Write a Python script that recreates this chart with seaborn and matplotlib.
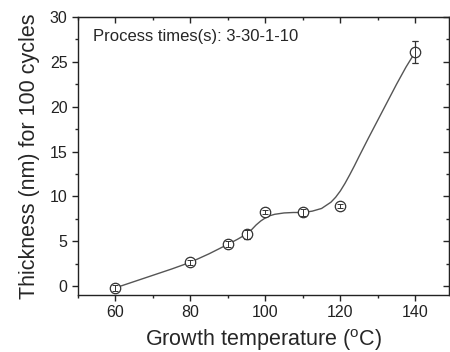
import matplotlib
matplotlib.use("Agg")
import matplotlib.pyplot as plt
import seaborn as sns
from matplotlib.ticker import MultipleLocator

# measured points
temp = [60, 80, 90, 95, 100, 110, 120, 140]
thickness = [-0.2, 2.65, 4.65, 5.75, 8.25, 8.2, 8.95, 26.1]
err = [0.3, 0.3, 0.35, 0.5, 0.25, 0.35, 0.25, 1.2]

# smooth guide curve
curve_x = [60, 65, 70, 75, 80, 85, 90, 92.5, 95, 96.25, 97.5, 98.75, 100, 101.25,
           102.5, 105, 107.5, 110, 112.5, 115, 117.5, 118.75, 120, 121.25, 122.5,
           123.75, 125, 127.5, 130, 132.5, 135, 137.5, 140]
curve_y = [-0.2, 0.5, 1.2, 1.9, 2.65, 3.6, 4.65, 5.2, 5.8, 6.25, 6.8, 7.25, 7.6, 7.85,
           8.0, 8.15, 8.2, 8.2, 8.35, 8.65, 9.35, 9.9, 10.6, 11.45, 12.4,
           13.4, 14.45, 16.5, 18.5, 20.5, 22.5, 24.4, 26.1]

sns.set_style("ticks")
plt.rcParams["font.family"] = ["Liberation Sans", "DejaVu Sans"]
plt.rcParams["mathtext.fontset"] = "custom"
plt.rcParams["mathtext.rm"] = "Liberation Sans"

fig = plt.figure(figsize=(4.5, 3.52), dpi=100)
ax = fig.add_axes([78 / 450, 1 - 295 / 352, (449 - 78) / 450, (295 - 17) / 352])

sns.lineplot(x=curve_x, y=curve_y, ax=ax, color="#555555", lw=1.0)
ax.errorbar(temp, thickness, yerr=err, fmt="o", ms=7.5, mfc="white", mec="#333333",
            mew=0.9, ecolor="#333333", elinewidth=0.9, capsize=2.5, capthick=0.9, zorder=3)
ax.errorbar(temp, thickness, yerr=err, fmt="none", ecolor="#333333",
            elinewidth=0.7, capsize=2.5, capthick=0.7, zorder=4)

ax.set_xlim(50, 149)
ax.set_ylim(-1, 30)
ax.xaxis.set_major_locator(MultipleLocator(20))
ax.xaxis.set_minor_locator(MultipleLocator(10))
ax.yaxis.set_major_locator(MultipleLocator(5))
ax.yaxis.set_minor_locator(MultipleLocator(2.5))
ax.tick_params(which="major", direction="out", length=4, width=1, labelsize=11.5, colors="#222222")
ax.tick_params(which="minor", direction="out", length=2.5, width=1)
for s in ax.spines.values():
    s.set_visible(True)
    s.set_linewidth(1)
    s.set_color("#222222")

top = ax.secondary_xaxis("top")
top.set_xticks([60, 80, 100, 120, 140])
top.set_xticks([50, 70, 90, 110, 130], minor=True)
top.tick_params(which="both", direction="in", labeltop=False)
top.tick_params(which="major", length=4, width=1)
top.tick_params(which="minor", length=2.5, width=1)
right = ax.secondary_yaxis("right")
right.set_yticks([0, 5, 10, 15, 20, 25, 30])
right.set_yticks([2.5, 7.5, 12.5, 17.5, 22.5, 27.5], minor=True)
right.tick_params(which="both", direction="in", labelright=False)
right.tick_params(which="major", length=4, width=1)
right.tick_params(which="minor", length=2.5, width=1)

ax.set_xlabel(r"Growth temperature ($^\mathrm{o}$C)", fontsize=15.5, labelpad=5)
ax.set_ylabel("Thickness (nm) for 100 cycles", fontsize=15.5, labelpad=7)
ax.text(0.04, 0.93, "Process times(s): 3-30-1-10", transform=ax.transAxes,
        fontsize=12, va="center", ha="left")

fig.savefig("out.png", dpi=100)
